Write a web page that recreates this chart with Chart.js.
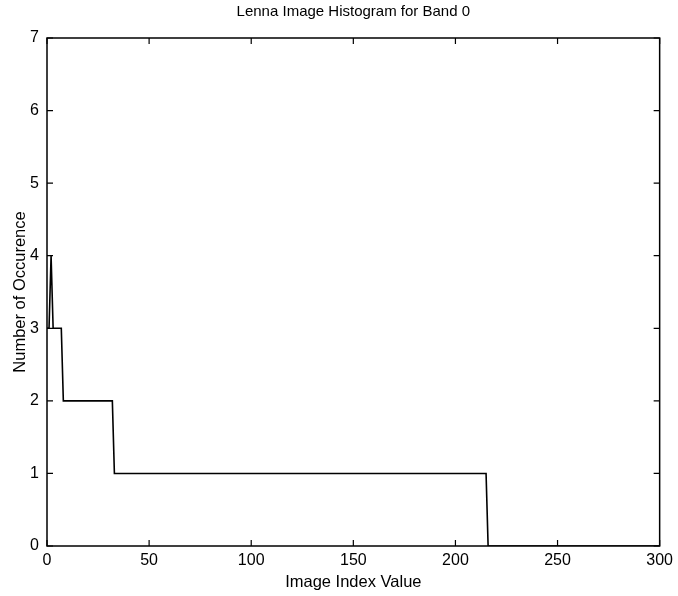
<!DOCTYPE html>
<html>
<head>
<meta charset="utf-8">
<script src="https://cdn.jsdelivr.net/npm/chart.js@4/dist/chart.umd.min.js"></script>
<style>
  html, body { margin: 0; padding: 0; background: #fff; }
  #wrap { width: 678px; height: 596px; }
</style>
</head>
<body>
<div id="wrap"><canvas id="hist"></canvas></div>
<script>
// histogram breakpoints (image index value -> number of occurrences)
const indexValues = [0, 1, 2, 3, 7, 8, 32, 33, 215, 216, 300];
const occurrences = [3, 3, 4, 3, 3, 2, 2, 1, 1, 0, 0];

const xTicks = [0, 50, 100, 150, 200, 250, 300];
const yTicks = [0, 1, 2, 3, 4, 5, 6, 7];

const chartTitle = 'Lenna Image Histogram for Band 0';
const FONT = '"Liberation Sans", Arial, Helvetica, sans-serif';

// MATLAB-style box with inward ticks on all four sides, title centred over the axes
const boxPlugin = {
    id: 'boxTicks',
    afterDatasetsDraw(chart) {
        const { ctx, chartArea: a, scales } = chart;
        ctx.save();
        ctx.strokeStyle = '#000';
        ctx.lineWidth = 1.5;
        ctx.strokeRect(a.left, a.top, a.right - a.left, a.bottom - a.top);
        ctx.lineWidth = 1.2;
        const len = 6;
        ctx.beginPath();
        xTicks.forEach(v => {
            const px = scales.x.getPixelForValue(v);
            ctx.moveTo(px, a.bottom); ctx.lineTo(px, a.bottom - len);
            ctx.moveTo(px, a.top); ctx.lineTo(px, a.top + len);
        });
        yTicks.forEach(v => {
            const py = scales.y.getPixelForValue(v);
            ctx.moveTo(a.left, py); ctx.lineTo(a.left + len, py);
            ctx.moveTo(a.right, py); ctx.lineTo(a.right - len, py);
        });
        ctx.stroke();

        ctx.fillStyle = '#000';
        ctx.font = '15px ' + FONT;
        ctx.textAlign = 'center';
        ctx.textBaseline = 'middle';
        ctx.fillText(chartTitle, (a.left + a.right) / 2, 12);
        ctx.restore();
    }
};

new Chart(document.getElementById('hist'), {
    type: 'line',
    data: {
        labels: indexValues,
        datasets: [{
            data: indexValues.map((x, i) => ({ x: x, y: occurrences[i] })),
            borderColor: '#000',
            borderWidth: 1.6,
            pointRadius: 0,
            fill: false,
            tension: 0
        }]
    },
    options: {
        responsive: true,
        maintainAspectRatio: false,
        animation: false,
        layout: { padding: { left: 0, right: 14, top: 38, bottom: 0 } },
        plugins: {
            legend: { display: false },
            tooltip: { enabled: false },
            title: { display: false }
        },
        scales: {
            x: {
                type: 'linear',
                min: 0,
                max: 300,
                afterBuildTicks: s => { s.ticks = xTicks.map(v => ({ value: v })); },
                afterFit: s => { s.height = 50; },
                grid: { display: false, drawTicks: false },
                border: { display: false },
                ticks: { color: '#000', padding: 5, maxRotation: 0, font: { family: FONT, size: 16 } },
                title: {
                    display: true,
                    text: 'Image Index Value',
                    color: '#000',
                    font: { family: FONT, size: 16.5 },
                    padding: { top: 0, bottom: 4 }
                }
            },
            y: {
                min: 0,
                max: 7,
                afterBuildTicks: s => { s.ticks = yTicks.map(v => ({ value: v })); },
                afterFit: s => { s.width = 47; },
                grid: { display: false, drawTicks: false },
                border: { display: false },
                ticks: { color: '#000', padding: 8, font: { family: FONT, size: 16 } },
                title: {
                    display: true,
                    text: 'Number of Occurence',
                    color: '#000',
                    font: { family: FONT, size: 16.5 },
                    padding: { top: 11, bottom: 0 }
                }
            }
        }
    },
    plugins: [boxPlugin]
});
</script>
</body>
</html>
